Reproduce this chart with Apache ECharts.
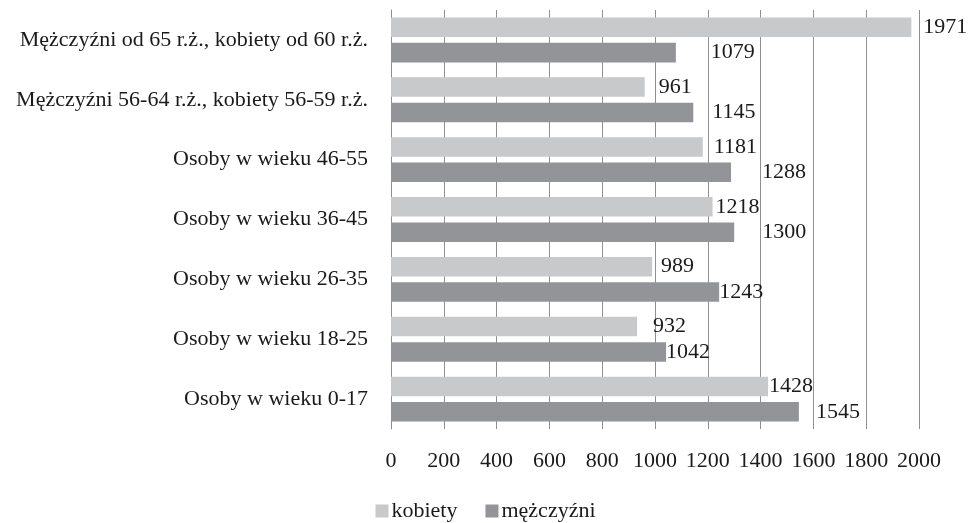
<!DOCTYPE html>
<html>
<head>
<meta charset="utf-8">
<script src="https://cdn.jsdelivr.net/npm/echarts@6/dist/echarts.min.js"></script>
<style>
html,body{margin:0;padding:0;background:#fff;}
#chart{width:971px;height:523px;}
</style>
</head>
<body>
<div id="chart"></div>
<script>
// Categories, top to bottom
var categories = [
  'Mężczyźni od 65 r.ż., kobiety od 60 r.ż.',
  'Mężczyźni 56-64 r.ż., kobiety 56-59 r.ż.',
  'Osoby w wieku 46-55',
  'Osoby w wieku 36-45',
  'Osoby w wieku 26-35',
  'Osoby w wieku 18-25',
  'Osoby w wieku 0-17'
];
var kobiety = [1971, 961, 1181, 1218, 989, 932, 1428];
var mezczyzni = [1079, 1145, 1288, 1300, 1243, 1042, 1545];
var xTicks = [0, 200, 400, 600, 800, 1000, 1200, 1400, 1600, 1800, 2000];

// label gaps (style only)
var kobietyLabelGap = [12, 14, 11, 3, 9, 16, 1];
var mezczyzniLabelGap = [35, 19, 31, 28, 0, 0, 17];

var FONT = "'Liberation Serif'";
var TXT = '#1a1a1a';

function withGaps(values, gaps) {
  return values.map(function (v, i) {
    return { value: v, label: { distance: gaps[i] } };
  });
}

var chart = echarts.init(document.getElementById('chart'), null, { renderer: 'canvas' });
chart.setOption({
  animation: false,
  backgroundColor: '#ffffff',
  textStyle: { fontFamily: FONT },
  grid: { left: 391, right: 52, top: 10, bottom: 94, containLabel: false },
  legend: {
    data: ['kobiety', 'mężczyźni'],
    bottom: -4,
    left: 'center',
    itemWidth: 13,
    itemHeight: 13,
    itemGap: 28,
    icon: 'rect',
    textStyle: { fontFamily: FONT, fontSize: 22, color: TXT, padding: [0, 0, 0, -2] }
  },
  xAxis: {
    type: 'value',
    min: xTicks[0],
    max: xTicks[xTicks.length - 1],
    interval: xTicks[1] - xTicks[0],
    axisLine: { show: false },
    axisTick: { show: false },
    axisLabel: {
      fontFamily: FONT, fontSize: 22, color: TXT, margin: 21,
      formatter: function (v) { return String(v); }
    },
    splitLine: { show: true, lineStyle: { color: '#8f8f8f', width: 1 } }
  },
  yAxis: {
    type: 'category',
    inverse: true,
    data: categories,
    axisLine: { show: true, lineStyle: { color: '#8f8f8f', width: 1 } },
    axisTick: { show: false },
    axisLabel: { fontFamily: FONT, fontSize: 22, color: TXT, margin: 23 }
  },
  series: [
    {
      name: 'kobiety',
      type: 'bar',
      data: withGaps(kobiety, kobietyLabelGap),
      barGap: '30%',
      barCategoryGap: '25%',
      itemStyle: { color: '#c8c9cb' },
      label: { show: true, position: 'right', fontFamily: FONT, fontSize: 22, color: TXT }
    },
    {
      name: 'mężczyźni',
      type: 'bar',
      data: withGaps(mezczyzni, mezczyzniLabelGap),
      barGap: '30%',
      barCategoryGap: '25%',
      itemStyle: { color: '#939497' },
      label: { show: true, position: 'right', fontFamily: FONT, fontSize: 22, color: TXT }
    }
  ]
});
</script>
</body>
</html>
